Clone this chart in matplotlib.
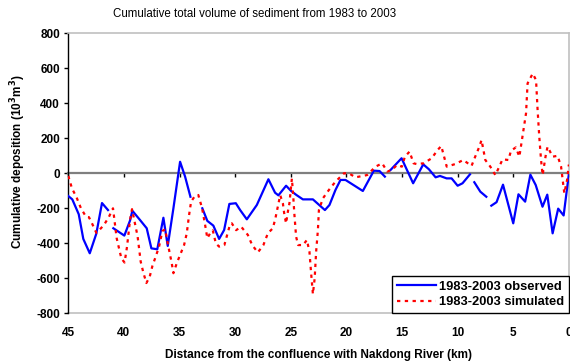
import matplotlib
matplotlib.use("Agg")
import matplotlib.pyplot as plt
import numpy as np

plt.rcParams['font.family'] = ['Liberation Sans', 'DejaVu Sans']

# Observed cumulative deposition (10^3 m^3) by distance (km); NaN marks missing sections
obs_km = [45.0, 44.64, 44.06, 43.65, 43.07, 42.48, 41.97, 41.43, 41.2,
          40.95, 39.96, 39.45, 39.24, 38.55, 37.95, 37.53, 37.0, 36.45, 36.06,
          35.55, 34.95, 34.5, 34.02, 33.5,
          32.95, 32.5, 31.96, 31.44, 30.99, 30.52, 29.94, 29.55, 28.95, 28.05,
          27.01, 26.41, 26.11, 25.42, 24.97, 24.49, 23.91, 23.01, 22.18, 21.93,
          21.52, 20.98, 20.53, 20.08, 18.52, 17.53, 17.02, 16.54, 16.3,
          16.03, 15.04, 14.0, 13.09, 12.58, 11.98, 11.59, 10.99, 10.54, 10.0,
          9.56, 8.89, 8.7,
          8.5, 7.96, 7.42, 7.2,
          6.97, 6.5, 5.92, 5.0, 4.53, 3.93, 3.46, 2.98, 2.37, 1.94, 1.46,
          0.96, 0.47, 0.0]
obs_val = [-130, -149, -234, -375, -457, -345, -170, -210, np.nan,
           -314, -356, -270, -214, -267, -314, -429, -434, -254, -415,
           -200, 66, -19, -134, np.nan,
           -200, -272, -299, -375, -324, -175, -171, -210, -263, -181,
           -34, -111, -126, -71, -101, -124, -149, -149, -196, -210,
           -181, -95, -38, -38, -101, 15, 13, -19, np.nan,
           19, 86, -57, 51, 23, -23, -15, -29, -29, -71,
           -57, -6, np.nan,
           -51, -105, -134, np.nan,
           -185, -165, -65, -286, -120, -162, -8, -67, -191, -122, -343,
           -202, -241, -5]

# Simulated cumulative deposition (10^3 m^3) by distance (km)
sim_km = [45.0, 44.67, 44.26, 43.86, 43.41, 43.14, 42.84, 42.48, 42.15, 41.79,
          41.34, 40.98, 40.65, 40.23, 39.94, 39.72, 39.45, 39.27, 38.77, 38.49,
          38.25, 37.98, 37.68, 37.44, 37.14, 36.84, 36.54, 36.30, 36.0, 35.70,
          35.55, 35.25, 34.95, 34.59, 34.35, 34.14, 33.96, 33.6, 33.31, 32.97,
          32.70, 32.50, 32.25, 32.01, 31.74, 31.44, 30.97, 30.45, 30.30, 29.91,
          29.46, 28.86, 28.47, 27.96, 27.46, 27.06, 26.61, 26.38, 26.16, 25.95,
          25.71, 25.57, 25.42, 25.26, 25.12, 24.90, 24.79, 24.67, 24.52, 24.34,
          23.89, 23.55, 23.32, 23.17, 23.01, 22.85, 22.72, 22.56, 22.47, 22.11,
          21.57, 21.01, 20.22, 19.78, 19.18, 18.13, 17.38, 16.78, 16.33, 15.91,
          15.46, 15.01, 14.74, 14.32, 13.96, 13.69, 13.06, 12.33, 11.80, 11.47,
          10.98, 10.21, 9.49, 8.75, 8.42, 8.06, 7.85, 7.51, 7.06, 6.61,
          6.32, 5.96, 5.44, 5.20, 4.77, 4.45, 4.30, 4.00, 3.85, 3.71,
          3.25, 2.95, 2.81, 2.66, 2.50, 2.36, 2.05, 1.91, 1.46, 1.01,
          0.70, 0.41, 0.16, 0.0]
sim_val = [-15, -86, -137, -200, -248, -251, -290, -340, -320, -295,
           -248, -200, -371, -486, -510, -420, -267, -205, -360, -505,
           -568, -627, -591, -530, -476, -419, -330, -320, -419, -514,
           -571, -514, -467, -410, -343, -238, -162, -128, -124, -200,
           -295, -371, -343, -326, -400, -419, -410, -290, -286, -325,
           -305, -352, -410, -452, -410, -343, -314, -257, -190, -125,
           -171, -238, -286, -219, -171, -30, -120, -238, -362, -410,
           -410, -381, -448, -571, -690, -600, -448, -324, -210, -143,
           -95, -50, 0, 0, -23, -10, 38, 57, 10, 19,
           47, 38, 95, 124, 57, 53, 57, 86, 133, 156,
           38, 53, 76, 42, 95, 150, 190, 76, 38, -10,
           29, 80, 76, 129, 148, 95, 156, 276, 343, 514,
           570, 533, 362, 209, 76, -10, 114, 152, 95, 100,
           38, -114, -38, 50]

x_ticks = [45, 40, 35, 30, 25, 20, 15, 10, 5, 0]
y_ticks = [-800, -600, -400, -200, 0, 200, 400, 600, 800]

fig = plt.figure(figsize=(5.7, 3.64), dpi=100)
ax = fig.add_axes([0.1198, 0.1393, 0.8782, 0.7692])

ax.plot(obs_km, obs_val, color='#0000ff', lw=1.6, label='1983-2003 observed', zorder=3)
ax.plot(sim_km, sim_val, color='#ff0000', lw=1.6, linestyle=(0, (1.5, 2.0)),
        label='1983-2003 simulated', zorder=4)

ax.set_xlim(45, 0)
ax.set_ylim(-800, 800)

# zero line carries the distance tick marks
ax.spines['bottom'].set_position(('data', 0))
ax.spines['bottom'].set_color('#7f7f7f')
ax.spines['bottom'].set_linewidth(1.6)
ax.spines['bottom'].set_zorder(2)
ax.set_xticks(x_ticks)
ax.tick_params(axis='x', direction='out', length=3, width=1, color='black',
               labelbottom=False)

for side in ('top', 'right'):
    ax.spines[side].set_color('#c0c0c0')
    ax.spines[side].set_linewidth(1.2)
ax.spines['left'].set_color('black')
ax.spines['left'].set_linewidth(1.0)

ax.set_yticks(y_ticks)
ax.set_yticklabels([str(v) for v in y_ticks], fontsize=8.5, fontweight='bold')
ax.tick_params(axis='y', direction='out', length=3, width=1, color='black', pad=3)

# bottom frame with distance labels
sec = ax.secondary_xaxis(0.0)
sec.set_xticks(x_ticks)
sec.set_xticklabels([str(v) for v in x_ticks], fontsize=8.5, fontweight='bold')
sec.tick_params(axis='x', length=0, pad=10)
sec.spines['bottom'].set_color('#c0c0c0')
sec.spines['bottom'].set_linewidth(1.2)
sec.set_xlabel('Distance from the confluence with Nakdong River (km)',
               fontsize=8.5, fontweight='bold', labelpad=7)

ax.set_ylabel('Cumulative deposition (10$^{\\mathbf{3}}$m$^{\\mathbf{3}}$)',
              fontsize=8.5, fontweight='bold')
ax.yaxis.set_label_coords(-0.08, 0.54)

fig.text(0.446, 0.962, 'Cumulative total volume of sediment from 1983 to 2003',
         ha='center', va='center', fontsize=8.3)

leg = ax.legend(loc='lower right', bbox_to_anchor=(1.0, 0.0), frameon=True,
                fancybox=False, edgecolor='black', framealpha=1,
                prop={'size': 9.3, 'weight': 'bold'}, handlelength=3.0,
                borderaxespad=0, borderpad=0.4, labelspacing=0.25,
                handletextpad=0.2)
leg.get_frame().set_linewidth(1.0)

fig.savefig('out.png', dpi=100)
